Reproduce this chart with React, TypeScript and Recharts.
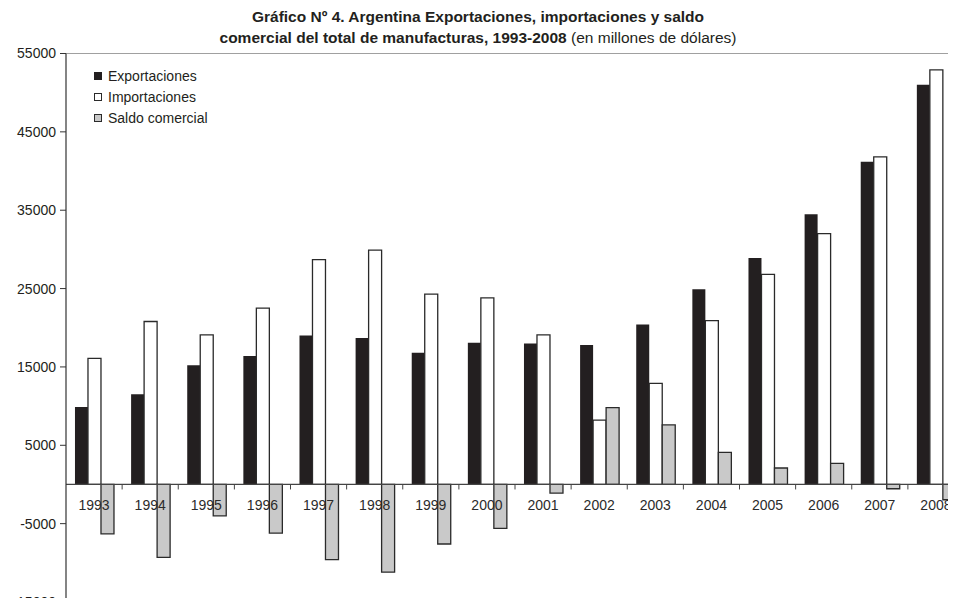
import React from 'react';
import { BarChart, Bar, XAxis, YAxis, ReferenceLine, Legend } from 'recharts';

const years = ['1993', '1994', '1995', '1996', '1997', '1998', '1999', '2000', '2001', '2002', '2003', '2004', '2005', '2006', '2007', '2008'];
const exportaciones = [9900, 11500, 15200, 16400, 19000, 18700, 16800, 18100, 18000, 17800, 20400, 24900, 28900, 34500, 41200, 51000];
const importaciones = [16100, 20800, 19100, 22500, 28700, 29900, 24300, 23800, 19100, 8200, 12900, 20900, 26800, 32000, 41800, 52900];
const saldo = [-6300, -9300, -4000, -6200, -9600, -11200, -7600, -5600, -1100, 9800, 7600, 4100, 2100, 2700, -550, -1950];
const yTicks = [-15000, -5000, 5000, 15000, 25000, 35000, 45000, 55000];

const data = years.map((year, i) => ({
  year,
  exportaciones: exportaciones[i],
  importaciones: importaciones[i],
  saldo: saldo[i],
}));

const SERIES = [
  { key: 'exportaciones', name: 'Exportaciones', fill: '#231f20', stroke: '#231f20' },
  { key: 'importaciones', name: 'Importaciones', fill: '#ffffff', stroke: '#2a2a2a' },
  { key: 'saldo', name: 'Saldo comercial', fill: '#c9c9c9', stroke: '#2a2a2a' },
];

// layout
const CHART_W = 965;
const CHART_H = 606;
const Y_W = 66;
const MARGIN = { top: 53.5, right: 1, bottom: 3, left: 0 };
const X_H = 1;
const PLOT_H = CHART_H - MARGIN.top - MARGIN.bottom - X_H;
const PLOT_W = CHART_W - Y_W - MARGIN.left - MARGIN.right;
const BAND = PLOT_W / years.length;
const Y_MIN = -15000;
const Y_MAX = 55000;
const ZERO_FROM_BOTTOM = (PLOT_H * (0 - Y_MIN)) / (Y_MAX - Y_MIN);

const TEXT = '#231f20';

const YearTick = (props: any) => {
  const { x, y, payload } = props;
  const zeroY = y - ZERO_FROM_BOTTOM;
  return (
    <g>
      <line x1={x + BAND / 2} x2={x + BAND / 2} y1={zeroY} y2={zeroY + 5} stroke="#444" strokeWidth={1} />
      <text x={x} y={zeroY + 21} textAnchor="middle" dominantBaseline="central" fontSize={14} fill="#2b2b2b">
        {payload.value}
      </text>
    </g>
  );
};

const LegendBox = (props: any) => {
  const items = props.payload || [];
  return (
    <div>
      {items.map((entry: any) => {
        const s = SERIES.find((d) => d.key === entry.dataKey) || SERIES[0];
        return (
          <div key={s.key} style={{ display: 'flex', alignItems: 'center', height: 21, fontSize: 14, color: TEXT }}>
            <span
              style={{
                display: 'inline-block',
                width: 6,
                height: 6,
                background: s.fill,
                border: `1px solid ${s.stroke}`,
                marginRight: 6,
              }}
            />
            {s.name}
          </div>
        );
      })}
    </div>
  );
};

export default function App() {
  return (
    <div
      style={{
        margin: -8,
        width: 956,
        height: 606,
        overflow: 'hidden',
        position: 'relative',
        fontFamily: '"Liberation Sans", Arial, sans-serif',
        background: '#fff',
      }}
    >
      <div
        style={{
          position: 'absolute',
          top: 6,
          left: 0,
          width: 956,
          textAlign: 'center',
          fontSize: 15.5,
          lineHeight: '21px',
          color: TEXT,
        }}
      >
        <div style={{ fontWeight: 'bold' }}>Gráfico Nº 4. Argentina Exportaciones, importaciones y saldo</div>
        <div>
          <span style={{ fontWeight: 'bold' }}>comercial del total de manufacturas, 1993-2008</span> (en millones de dólares)
        </div>
      </div>
      <BarChart width={CHART_W} height={CHART_H} data={data} margin={MARGIN} barCategoryGap="16%" barGap={0}>
        <YAxis
          width={Y_W}
          domain={[Y_MIN, Y_MAX]}
          ticks={yTicks}
          interval={0}
          axisLine={{ stroke: '#333', strokeWidth: 1.2 }}
          tickLine={{ stroke: '#333' }}
          tickSize={6}
          tickMargin={4}
          tick={{ fontSize: 14, fill: TEXT }}
        />
        {SERIES.map((s) => (
          <Bar
            key={s.key}
            dataKey={s.key}
            name={s.name}
            fill={s.fill}
            stroke={s.stroke}
            strokeWidth={s.key === 'exportaciones' ? 0 : 1.3}
            isAnimationActive={false}
          />
        ))}
        <ReferenceLine y={0} stroke="#444" strokeWidth={1.2} />
        <ReferenceLine y={Y_MAX} stroke="#a0a0a0" strokeWidth={1.2} />
        <XAxis
          dataKey="year"
          height={X_H}
          interval={0}
          axisLine={{ stroke: '#b4b4b4', strokeWidth: 1.2 }}
          tickLine={false}
          tickSize={0}
          tickMargin={0}
          tick={<YearTick />}
        />
        <Legend
          layout="vertical"
          align="center"
          verticalAlign="middle"
          content={<LegendBox />}
          wrapperStyle={{ left: 94, top: 65, width: 'auto', height: 'auto' }}
        />
      </BarChart>
    </div>
  );
}
